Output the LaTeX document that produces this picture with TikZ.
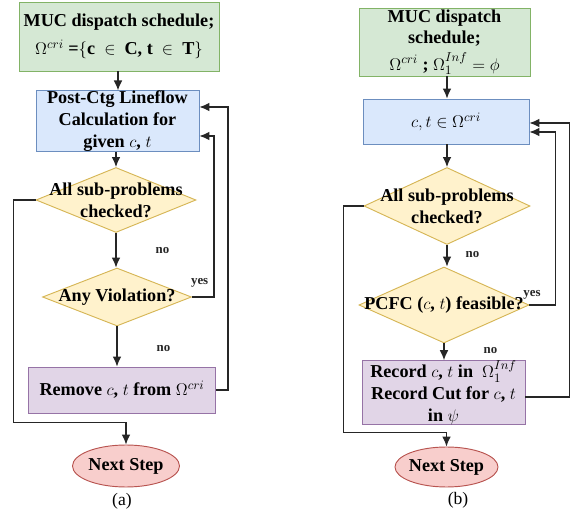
\documentclass[tikz,border=0pt]{standalone}
\usepackage{fontspec}
\setmainfont{Liberation Serif}[BoldFont={Liberation Serif Bold}, ItalicFont={Liberation Serif Italic}]
\usepackage{tikz}
\usetikzlibrary{arrows.meta, calc, shapes.geometric}
\definecolor{startFill}{HTML}{D5E8D4}
\definecolor{startDraw}{HTML}{82B366}
\definecolor{procFill}{HTML}{DAE8FC}
\definecolor{procDraw}{HTML}{6C8EBF}
\definecolor{decFill}{HTML}{FFF2CC}
\definecolor{decDraw}{HTML}{D6B656}
\definecolor{recFill}{HTML}{E1D5E7}
\definecolor{recDraw}{HTML}{9673A6}
\definecolor{endFill}{HTML}{F8CECC}
\definecolor{endDraw}{HTML}{B85450}
\newcommand{\flowfont}{\fontsize{15.5}{18.5}\selectfont\bfseries}
\newcommand{\answerfont}{\fontsize{11}{12}\selectfont\bfseries}
\newcommand{\capfont}{\fontsize{15}{17}\selectfont}
\tikzset{
  boxtext/.style={font=\flowfont, align=center},
  startbox/.style={draw=startDraw, fill=startFill, thick, inner sep=0pt, boxtext},
  procbox/.style={draw=procDraw, fill=procFill, thick, inner sep=0pt, boxtext},
  recbox/.style={draw=recDraw, fill=recFill, thick, inner sep=0pt, boxtext},
  decision/.style={diamond, draw=decDraw, fill=decFill, thick, inner sep=0pt, aspect=2},
  endstep/.style={ellipse, draw=endDraw, fill=endFill, thick, inner sep=0pt},
  flow/.style={-{Latex[length=8.5pt, width=7.5pt]}, line width=1.1pt, black!85},
  answer/.style={font=\answerfont},
  subcap/.style={font=\capfont}
}

\begin{document}
\begin{tikzpicture}[x=0.03cm, y=-0.03cm]
  \useasboundingbox (0,0) rectangle (575,512);
  % (a)
  \node[startbox, minimum width=6cm, minimum height=2.07cm] (ga) at (119,36.5)
    {MUC dispatch schedule;\\ \rule{0pt}{20pt}$\Omega^{cri}$ =$\{$c\enspace$\in$\enspace C, t\enspace$\in$\enspace T$\}$};
  \node[procbox, minimum width=4.89cm, minimum height=1.8cm] (ba) at (117.5,121)
    {Post-Ctg Lineflow\\Calculation for\\given $c$, $t$};
  \node[decision, minimum width=4.8cm, minimum height=1.95cm] (da) at (116,200) {};
  \node[boxtext] at (da) {All sub-problems\\checked?};
  \node[decision, minimum width=4.47cm, minimum height=1.74cm] (va) at (117,297) {};
  \node[boxtext] at (va) {Any Violation?};
  \node[recbox, minimum width=5.61cm, minimum height=1.38cm] (ra) at (122,390)
    {Remove $c$, $t$ from $\Omega^{cri}$};
  \node[endstep, minimum width=3.21cm, minimum height=1.26cm] (ea) at (126,466) {};
  \node[boxtext] at (ea) {Next Step};
  \node[subcap] (capa) at (122,501) {(a)};

  \coordinate (gaout) at ($(ga.south)+(-1,0)$);
  \coordinate (baout) at ($(ba.south)+(-1.5,0)$);
  \draw[flow] (gaout) -- (gaout |- ba.north);
  \draw[flow] (baout) -- (da.north);
  \draw[flow] (da.south) -- node[answer, right, xshift=30pt] {no} (da.south |- va.north);
  \draw[flow] (va.south) -- node[answer, right, xshift=30pt, pos=0.55] {no} (va.south |- ra.north);
  \draw[flow] (da.west) -- ++(-22,0) |- ($(ea.north)+(0,-22)$) -- (ea.north);
  \draw[flow] (va.east) -- node[answer, above, pos=0.35, yshift=4pt] {yes} ++(22,0)
    |- ($(ba.east)+(0,15)$);
  \draw[flow] (ra.east) -- ++(12,0) |- ($(ba.east)+(0,-14)$);

  % (b)
  \node[startbox, minimum width=5.13cm, minimum height=2.04cm] (gb) at (444.5,42)
    {MUC dispatch\\schedule;\\\rule{0pt}{19pt}$\Omega^{cri}$ ; $\Omega_1^{Inf}=\phi$};
  \node[procbox, minimum width=4.98cm, minimum height=1.35cm] (bb) at (446,121.5)
    {$c, t \in \Omega^{cri}$};
  \node[decision, minimum width=4.98cm, minimum height=2.31cm] (db) at (447,206) {};
  \node[boxtext] at (db) {All sub-problems\\checked?};
  \node[decision, minimum width=5.1cm, minimum height=2.28cm] (fb) at (444,305) {};
  \node[boxtext] at (fb) {PCFC ($c$, $t$) feasible?};
  \node[recbox, minimum width=4.89cm, minimum height=1.83cm] (rb) at (443.5,392.5)
    {Record $c$, $t$ in\enspace $\Omega_1^{Inf}$\\Record Cut for $c$, $t$\\in $\psi$};
  \node[endstep, minimum width=3.09cm, minimum height=1.2cm] (eb) at (446.5,467) {};
  \node[boxtext] at (eb) {Next Step};
  \node[subcap] (capb) at (458,500) {(b)};

  \coordinate (gbout) at ($(gb.south)+(2.5,0)$);
  \coordinate (bbout) at ($(bb.south)+(1,0)$);
  \draw[flow] (gbout) -- (gbout |- bb.north);
  \draw[flow] (bbout) -- (db.north);
  \draw[flow] (db.south) -- node[answer, right, xshift=12pt, pos=0.45] {no} (db.south |- fb.north);
  \draw[flow] (fb.south) -- node[answer, right, xshift=30pt, pos=0.4] {no} (fb.south |- rb.north);
  \draw[flow] (db.west) -- ++(-20,0) |- ($(eb.north)+(0,-14)$) -- (eb.north);
  \draw[flow] (fb.east) -- node[answer, above, pos=0.1, yshift=1pt] {yes} ++(26,0)
    |- ($(bb.east)+(0,10.5)$);
  \draw[flow] ($(rb.east)+(0,4.5)$) -- ++(44,0) |- ($(bb.east)+(0,1.5)$);
\end{tikzpicture}
\end{document}
